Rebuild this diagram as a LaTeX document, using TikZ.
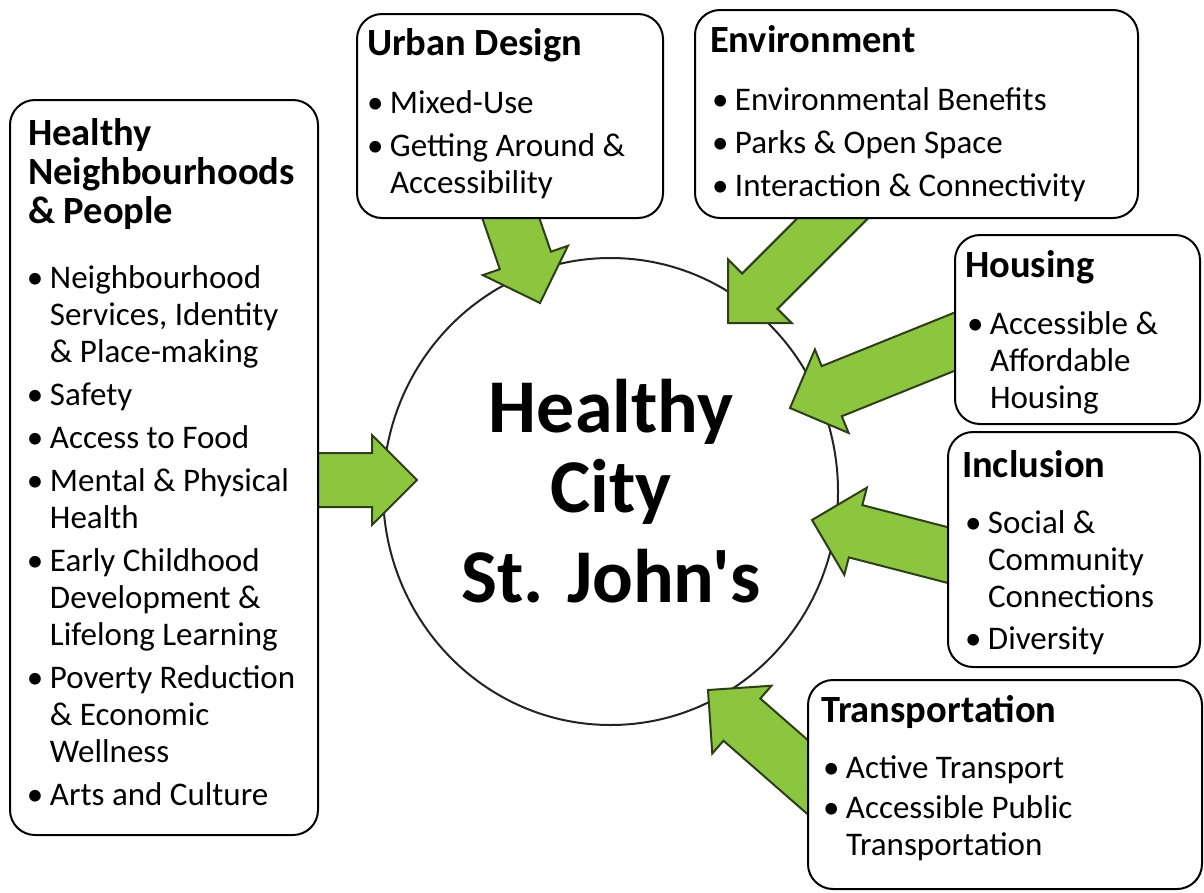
\documentclass[tikz,border=0pt]{standalone}
\usepackage{fontspec}
\setmainfont{Carlito}
\newfontfamily\hubfont{Carlito}
\usetikzlibrary{calc,shapes.geometric}
\definecolor{arrowfill}{RGB}{140,198,63}
\definecolor{arrowline}{RGB}{45,62,25}
\definecolor{ringline}{RGB}{35,35,35}
\newcommand\bodyfont{\fontsize{33}{37}\selectfont}
\newcommand\headfont{\fontsize{38.5}{39}\selectfont\bfseries}
\newcommand\hubtextfont{\hubfont\fontsize{76}{80}\selectfont\bfseries}
\newcommand\bul{\makebox[23pt][l]{•}}
% block arrow from start #1 to tip #2, half shaft width #3, prefix #4
\newcommand\blockarrow[4]{%
  \coordinate (#4h) at ($(#2)!45pt!(#1)$);
  \draw[arrowshape] ($(#1)!#3!90:(#2)$) -- ($(#4h)!#3!90:(#2)$) -- ($(#4h)!45pt!90:(#2)$) -- (#2)
    -- ($(#4h)!45pt!-90:(#2)$) -- ($(#4h)!#3!-90:(#2)$) -- ($(#1)!#3!-90:(#2)$) -- cycle;}
\begin{document}
\begin{tikzpicture}[x=1pt,y=-1pt,
  panel/.style={draw=black, line width=2pt, fill=white, rounded corners=25pt},
  arrowshape/.style={fill=arrowfill, draw=arrowline, line width=2pt, line join=miter},
  head/.style={font=\headfont, anchor=base west, inner sep=0pt, outer sep=0pt},
  list/.style={font=\bodyfont, anchor=base west, inner sep=0pt, outer sep=0pt},
  ring/.style={draw=ringline, line width=2pt, ellipse, inner sep=0pt}]
\useasboundingbox (0,0) rectangle (1204,892);
\fill[white] (0,0) rectangle (1204,892);

% central ring
\node[ring, minimum width=455pt, minimum height=467pt] (hub) at (610.5,491.5) {};

% arrows
\coordinate (a1s) at (300,480);     \coordinate (a1t) at (417,480);
\coordinate (a2s) at (502.5,194);   \coordinate (a2t) at (540,303);
\coordinate (a3s) at (862.3,188.7); \coordinate (a3t) at (728,323);
\coordinate (a4s) at (984.8,329.5); \coordinate (a4t) at (790,408);
\coordinate (a5s) at (963,559);     \coordinate (a5t) at (812,520);
\coordinate (a6s) at (835,801);     \coordinate (a6t) at (708,690);
\blockarrow{a1s}{a1t}{27pt}{a1}
\blockarrow{a2s}{a2t}{27pt}{a2}
\blockarrow{a3s}{a3t}{25pt}{a3}
\blockarrow{a4s}{a4t}{27pt}{a4}
\blockarrow{a5s}{a5t}{27pt}{a5}
\blockarrow{a6s}{a6t}{28pt}{a6}

% panels
\draw[panel] (10,100) rectangle (318,835);
\draw[panel] (357,14) rectangle (663,218);
\draw[panel] (695,10) rectangle (1138,218);
\draw[panel] (955,235) rectangle (1200,424);
\draw[panel] (948,432) rectangle (1200,667);
\draw[panel] (808,680) rectangle (1202,889);

% central text
\node[font=\hubtextfont, anchor=base, inner sep=0pt] (hubtext) at (611,432)
  {\begin{tabular}[t]{@{}c@{}}Healthy\\City\\[10pt]St. John's\end{tabular}};

% Healthy Neighbourhoods & People
\node[head] (hnpT) at (28,145)
  {\begin{tabular}[t]{@{}l@{}}Healthy\\Neighbourhoods\\\& People\end{tabular}};
\node[list] (hnpL) at (27,288)
  {\begin{tabular}[t]{@{}l@{}l@{}}
   \bul & Neighbourhood\\ & Services, Identity\\ & \& Place-making\\[6pt]
   \bul & Safety\\[6pt]
   \bul & Access to Food\\[6pt]
   \bul & Mental \& Physical\\ & Health\\[6pt]
   \bul & Early Childhood\\ & Development \&\\ & Lifelong Learning\\[6pt]
   \bul & Poverty Reduction\\ & \& Economic\\ & Wellness\\[6pt]
   \bul & Arts and Culture
   \end{tabular}};

% Urban Design
\node[head] (udT) at (367,55) {Urban Design};
\node[list] (udL) at (367,113)
  {\begin{tabular}[t]{@{}l@{}l@{}}
   \bul & Mixed-Use\\[6pt]
   \bul & Getting Around \&\\ & Accessibility
   \end{tabular}};

% Environment
\node[head] (envT) at (710,52) {Environment};
\node[list] (envL) at (712,110)
  {\begin{tabular}[t]{@{}l@{}l@{}}
   \bul & Environmental Benefits\\[6pt]
   \bul & Parks \& Open Space\\[6pt]
   \bul & Interaction \& Connectivity
   \end{tabular}};

% Housing
\node[head] (houT) at (965,277) {Housing};
\node[list] (houL) at (967,334)
  {\begin{tabular}[t]{@{}l@{}l@{}}
   \bul & Accessible \&\\ & Affordable\\ & Housing
   \end{tabular}};

% Inclusion
\node[head] (incT) at (962,477) {Inclusion};
\node[list] (incL) at (965,533)
  {\begin{tabular}[t]{@{}l@{}l@{}}
   \bul & Social \&\\ & Community\\ & Connections\\[5pt]
   \bul & Diversity
   \end{tabular}};

% Transportation
\node[head] (traT) at (821,722) {Transportation};
\node[list] (traL) at (823,778)
  {\begin{tabular}[t]{@{}l@{}l@{}}
   \bul & Active Transport\\[3pt]
   \bul & Accessible Public\\ & Transportation
   \end{tabular}};
\end{tikzpicture}
\end{document}
